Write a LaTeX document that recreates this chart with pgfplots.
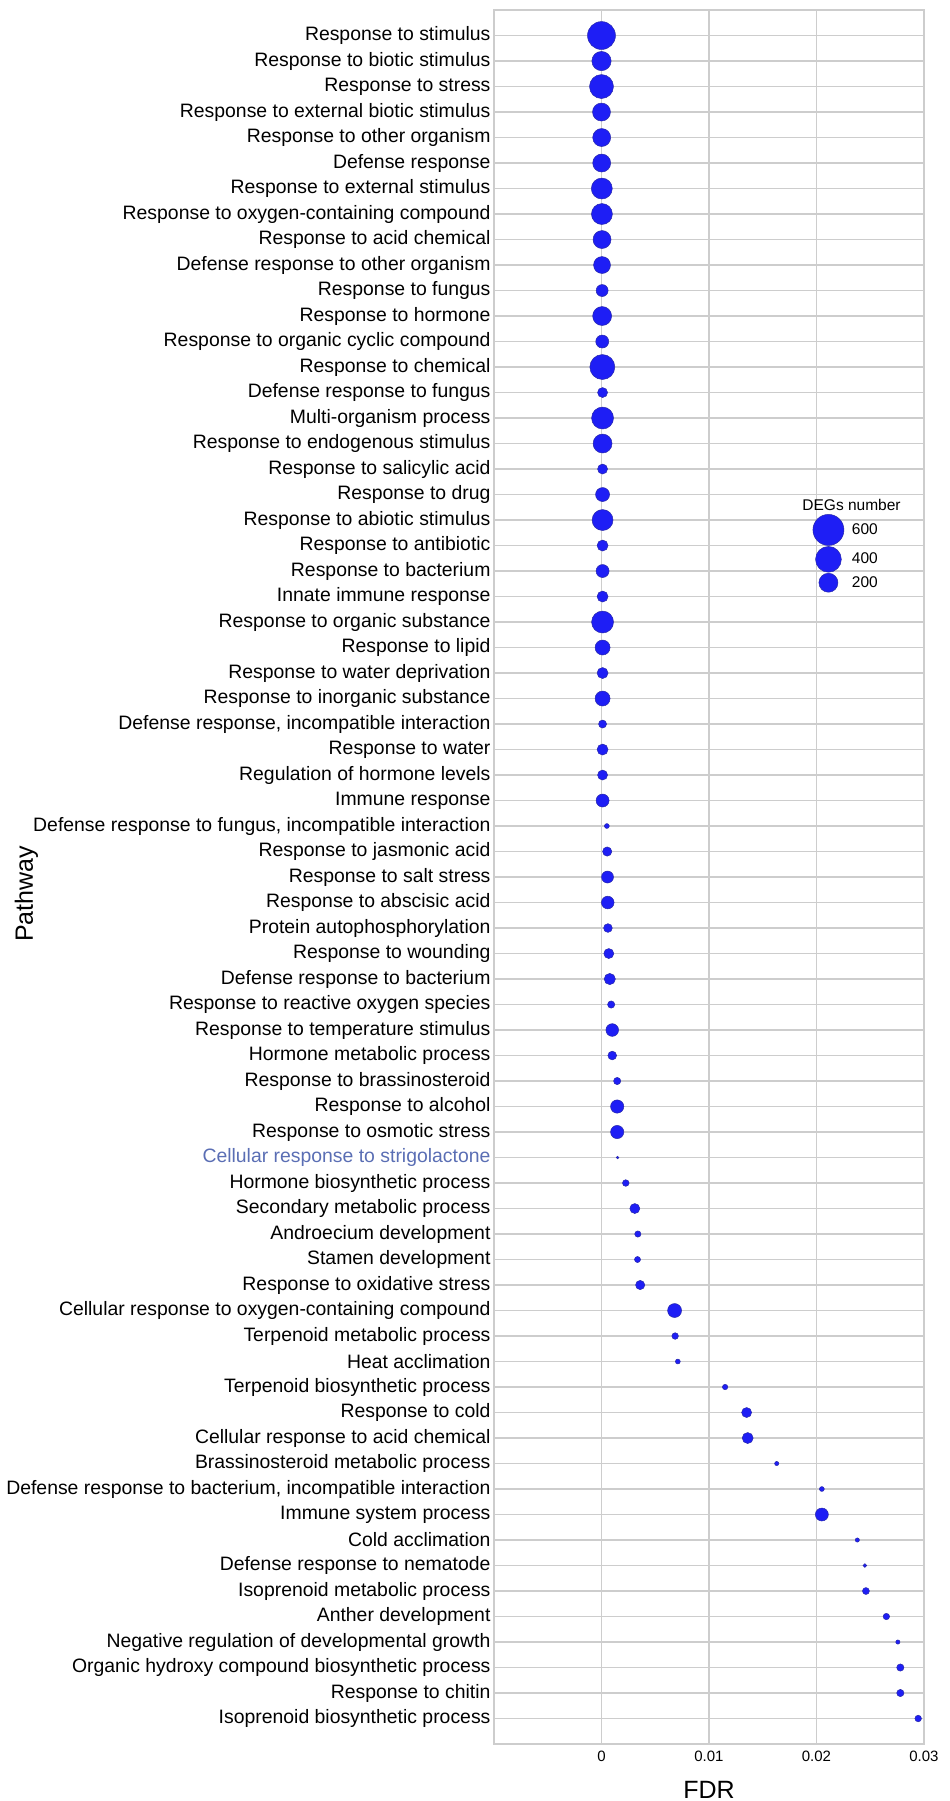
\documentclass[border=0pt]{standalone}
\usepackage{pgfplots}
\pgfplotsset{compat=1.18}
\usepackage{pgfplotstable}
\usepackage{fontspec}
\setmainfont{Liberation Sans}

\definecolor{dotblue}{RGB}{30,30,245}
\definecolor{dotedge}{RGB}{40,40,170}
\definecolor{gridgray}{RGB}{205,205,205}
\definecolor{slab}{RGB}{90,110,180}

% row  fdr  degs
\pgfplotstableread{
row fdr deg
1 0 480
2 0 208
3 0 341
4 0 177
5 0.00002 177
6 0.00002 177
7 0.00003 252
8 0.00004 252
9 0.00005 177
10 0.00005 154
11 0.00006 66
12 0.00006 200
13 0.00007 81
14 0.00008 374
15 0.0001 41
16 0.0001 280
17 0.0001 200
18 0.0001 41
19 0.0001 97
20 0.0001 252
21 0.0001 53
22 0.0001 81
23 0.0001 53
24 0.0001 280
25 0.0001 115
26 0.0001 53
27 0.0001 115
28 0.0001 22
29 0.0001 53
30 0.0001 41
31 0.0001 81
32 0.0005 4
33 0.00053 33
34 0.00056 66
35 0.00058 76
36 0.0006 28
37 0.00068 41
38 0.00077 56
39 0.0009 16
40 0.001 76
41 0.001 28
42 0.00146 16
43 0.00146 85
44 0.00146 85
45 0.0015 0
46 0.00226 12
47 0.0031 41
48 0.00338 10
49 0.00335 9
50 0.0036 33
51 0.0068 97
52 0.00685 12
53 0.0071 4
54 0.0115 6
55 0.0135 41
56 0.0136 53
57 0.0163 2
58 0.0205 4
59 0.0205 81
60 0.0238 2
61 0.0245 1
62 0.0246 14
63 0.0265 11
64 0.02757 2
65 0.0278 16
66 0.0278 16
67 0.02946 12
}\godata

\begin{document}
\begin{tikzpicture}
\useasboundingbox (-494bp,-57bp) rectangle (456bp,1744bp);
\begin{axis}[
    at={(0,0)}, anchor=south west,
    scale only axis,
    width=430bp, height=1734bp,
    xmin=-0.01, xmax=0.03,
    ymin=0, ymax=68,
    y dir=reverse,
    scaled x ticks=false,
    xtick={0,0.01,0.02,0.03},
    xticklabels={0,0.01,0.02,0.03},
    ytick={1,...,67},
    yticklabels={
      {Response to stimulus},
      {Response to biotic stimulus},
      {Response to stress},
      {Response to external biotic stimulus},
      {Response to other organism},
      {Defense response},
      {Response to external stimulus},
      {Response to oxygen-containing compound},
      {Response to acid chemical},
      {Defense response to other organism},
      {Response to fungus},
      {Response to hormone},
      {Response to organic cyclic compound},
      {Response to chemical},
      {Defense response to fungus},
      {Multi-organism process},
      {Response to endogenous stimulus},
      {Response to salicylic acid},
      {Response to drug},
      {Response to abiotic stimulus},
      {Response to antibiotic},
      {Response to bacterium},
      {Innate immune response},
      {Response to organic substance},
      {Response to lipid},
      {Response to water deprivation},
      {Response to inorganic substance},
      {Defense response, incompatible interaction},
      {Response to water},
      {Regulation of hormone levels},
      {Immune response},
      {Defense response to fungus, incompatible interaction},
      {Response to jasmonic acid},
      {Response to salt stress},
      {Response to abscisic acid},
      {Protein autophosphorylation},
      {Response to wounding},
      {Defense response to bacterium},
      {Response to reactive oxygen species},
      {Response to temperature stimulus},
      {Hormone metabolic process},
      {Response to brassinosteroid},
      {Response to alcohol},
      {Response to osmotic stress},
      {\color{slab}Cellular response to strigolactone},
      {Hormone biosynthetic process},
      {Secondary metabolic process},
      {Androecium development},
      {Stamen development},
      {Response to oxidative stress},
      {Cellular response to oxygen-containing compound},
      {Terpenoid metabolic process},
      {Heat acclimation},
      {Terpenoid biosynthetic process},
      {Response to cold},
      {Cellular response to acid chemical},
      {Brassinosteroid metabolic process},
      {Defense response to bacterium, incompatible interaction},
      {Immune system process},
      {Cold acclimation},
      {Defense response to nematode},
      {Isoprenoid metabolic process},
      {Anther development},
      {Negative regulation of developmental growth},
      {Organic hydroxy compound biosynthetic process},
      {Response to chitin},
      {Isoprenoid biosynthetic process}
    },
    major tick length=0pt,
    grid=major,
    grid style={draw=gridgray, line width=1.8bp},
    axis line style={draw=gridgray, line width=1.8bp},
    yticklabel style={font=\fontsize{19.4bp}{22bp}\selectfont, text=black},
    xticklabel style={font=\fontsize{15bp}{18bp}\selectfont, yshift=-3bp},
    xlabel={FDR},
    ylabel={Pathway},
    xlabel style={font=\fontsize{25bp}{30bp}\selectfont, at={(axis description cs:0.5,0)}, anchor=base, yshift=-54bp},
    ylabel style={font=\fontsize{25bp}{30bp}\selectfont, at={(axis description cs:-1.0721,0.4902)}, anchor=base},
    legend style={draw=none, fill=none, at={(axis cs:0.01967,19.78)}, anchor=north west,
      inner sep=0pt, outer sep=0pt, row sep=1bp, column sep=6bp,
      font=\fontsize{15.5bp}{18bp}\selectfont},
    legend cell align=left,
]
\addplot[only marks, mark=*, scatter,
    scatter/use mapped color={draw=dotedge, fill=dotblue},
    mark options={line width=0.5bp},
    point meta=\thisrow{deg},
    visualization depends on={\thisrow{deg} \as \deg},
    scatter/@pre marker code/.append style={/tikz/mark size={1.3+0.58*sqrt(\deg)}},
    forget plot
] table[x=fdr, y=row] {\godata};

\addlegendimage{only marks, mark=*, mark size=15.5bp, draw=dotedge, fill=dotblue, mark options={line width=0.5bp}}
\addlegendentry{600}
\addlegendimage{only marks, mark=*, mark size=12.9bp, draw=dotedge, fill=dotblue, mark options={line width=0.5bp}}
\addlegendentry{400}
\addlegendimage{only marks, mark=*, mark size=9.5bp, draw=dotedge, fill=dotblue, mark options={line width=0.5bp}}
\addlegendentry{200}

\node[font=\fontsize{15.5bp}{18bp}\selectfont] at (axis cs:0.02326,19.41) {DEGs number};
\end{axis}
\end{tikzpicture}
\end{document}
